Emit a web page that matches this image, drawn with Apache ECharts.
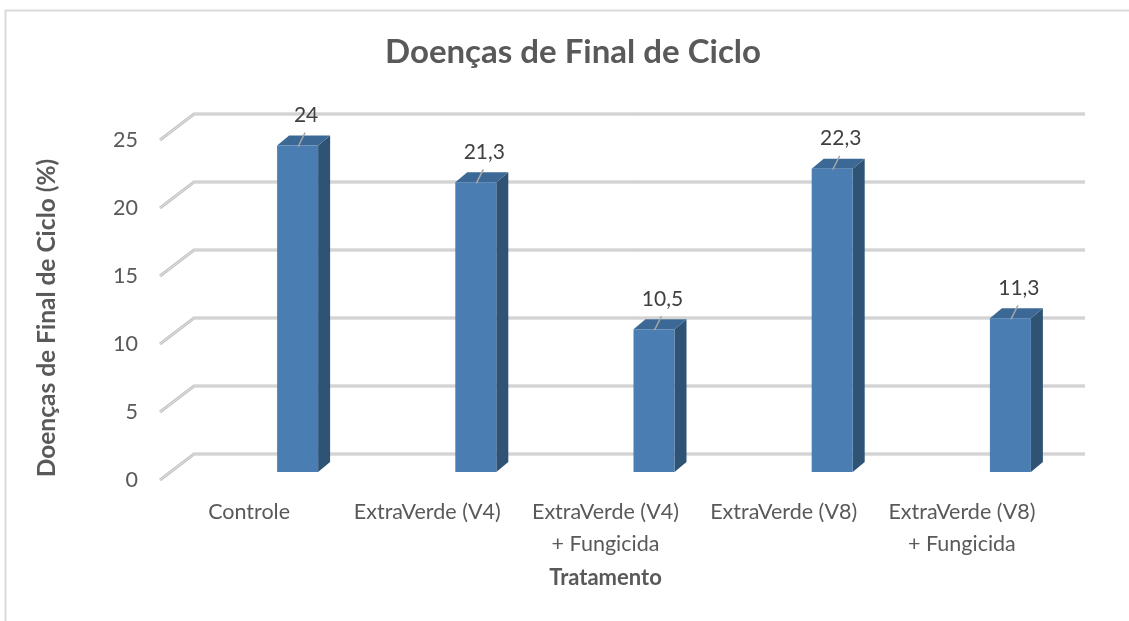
<!DOCTYPE html>
<html>
<head>
<meta charset="utf-8">
<script src="https://cdn.jsdelivr.net/npm/echarts@6/dist/echarts.min.js"></script>
<style>
  html, body { margin: 0; padding: 0; background: #fff; }
  #chart { width: 1129px; height: 621px; }
</style>
</head>
<body>
<div id="chart"></div>
<script>
const categories = ['Controle', 'ExtraVerde (V4)', 'ExtraVerde (V4)\n+ Fungicida', 'ExtraVerde (V8)', 'ExtraVerde (V8)\n+ Fungicida']
const values = [24, 21.3, 10.5, 22.3, 11.3]
const yTicks = [0, 5, 10, 15, 20, 25]

const FONT = 'Lato, "Open Sans", sans-serif'
const TEXT = '#595959'

// 3d look, in pixels
const WALL_DX = 34, WALL_DY = -26   // back wall offset
const BAR_DX = 28, BAR_DY = -8      // bar front face vs front plane
const BAR_W = 41, DEPTH_X = 12, DEPTH_Y = -10

const el = document.getElementById('chart')
const chart = echarts.init(el)

function renderGrid(params, api) {
  const cs = params.coordSys
  const y = api.coord([0, api.value(1)])[1]
  const x0 = cs.x, x1 = cs.x + cs.width
  const pts = [[x0, y], [x0 + WALL_DX, y + WALL_DY], [x1 + WALL_DX, y + WALL_DY]]
  return {
    type: 'group',
    children: [
      { type: 'polyline', shape: { points: pts }, style: { stroke: '#c4c4c4', lineWidth: 3, fill: null } },
      { type: 'polyline', shape: { points: pts }, style: { stroke: '#e2e2e2', lineWidth: 1, fill: null } }
    ]
  }
}

function renderBar(params, api) {
  const idx = api.value(0)
  const v = api.value(1)
  const base = api.coord([idx, 0])
  const top = api.coord([idx, v])
  const L = base[0] + BAR_DX
  const R = L + BAR_W
  const T = top[1] + BAR_DY
  const B = base[1] + BAR_DY
  const label = String(v).replace('.', ',')
  return {
    type: 'group',
    children: [
      { type: 'polygon', shape: { points: [[R, T], [R + DEPTH_X, T + DEPTH_Y], [R + DEPTH_X, B + DEPTH_Y], [R, B]] },
        style: { fill: '#2f5374' } },
      { type: 'polygon', shape: { points: [[L, T], [L + DEPTH_X, T + DEPTH_Y], [R + DEPTH_X, T + DEPTH_Y], [R, T]] },
        style: { fill: '#3c6896' } },
      { type: 'rect', shape: { x: L, y: T, width: BAR_W, height: B - T },
        style: { fill: '#4a7db2' } },
      { type: 'line', shape: { x1: L + 21, y1: T + 1, x2: L + 28, y2: T - 13 },
        style: { stroke: '#a6a6a6', lineWidth: 1.5 } },
      { type: 'text', x: L + 29, y: T - 30,
        style: { text: label, fill: '#404040', font: '21px ' + FONT, align: 'center', verticalAlign: 'middle' } }
    ]
  }
}

chart.setOption({
  animation: false,
  backgroundColor: '#fff',
  title: {
    text: 'Doenças de Final de Ciclo',
    left: 568, top: 31, textAlign: 'center',
    textStyle: { fontFamily: FONT, fontSize: 33, fontWeight: 'bold', color: TEXT }
  },
  graphic: [
    { type: 'rect', shape: { x: 5.5, y: 10.5, width: 1300, height: 800 },
      style: { fill: null, stroke: '#d9d9d9', lineWidth: 2 }, silent: true }
  ],
  grid: { left: 160, right: 78, top: 140, bottom: 141 },
  xAxis: {
    type: 'category',
    data: categories,
    axisLine: { show: false },
    axisTick: { show: false },
    axisLabel: { color: TEXT, fontFamily: FONT, fontSize: 21.5, lineHeight: 32, margin: 16, interval: 0 },
    name: 'Tratamento',
    nameLocation: 'middle',
    nameGap: 87,
    nameTextStyle: { color: TEXT, fontFamily: FONT, fontSize: 22, fontWeight: 'bold' }
  },
  yAxis: {
    type: 'value',
    min: 0, max: 25, interval: 5,
    axisLine: { show: false },
    axisTick: { show: false },
    splitLine: { show: false },
    axisLabel: { color: TEXT, fontFamily: FONT, fontSize: 21.5, margin: 22 },
    name: 'Doenças de Final de Ciclo (%)',
    nameLocation: 'middle',
    nameGap: 100,
    nameTextStyle: { color: TEXT, fontFamily: FONT, fontSize: 24.5, fontWeight: 'bold', padding: [0, 16, 0, 0] }
  },
  series: [
    {
      type: 'custom',
      z: 1,
      renderItem: renderGrid,
      data: yTicks.map(t => [0, t]),
      silent: true
    },
    {
      type: 'custom',
      z: 2,
      renderItem: renderBar,
      data: values.map((v, i) => [i, v])
    }
  ]
})

window.addEventListener('resize', () => chart.resize())
</script>
</body>
</html>
